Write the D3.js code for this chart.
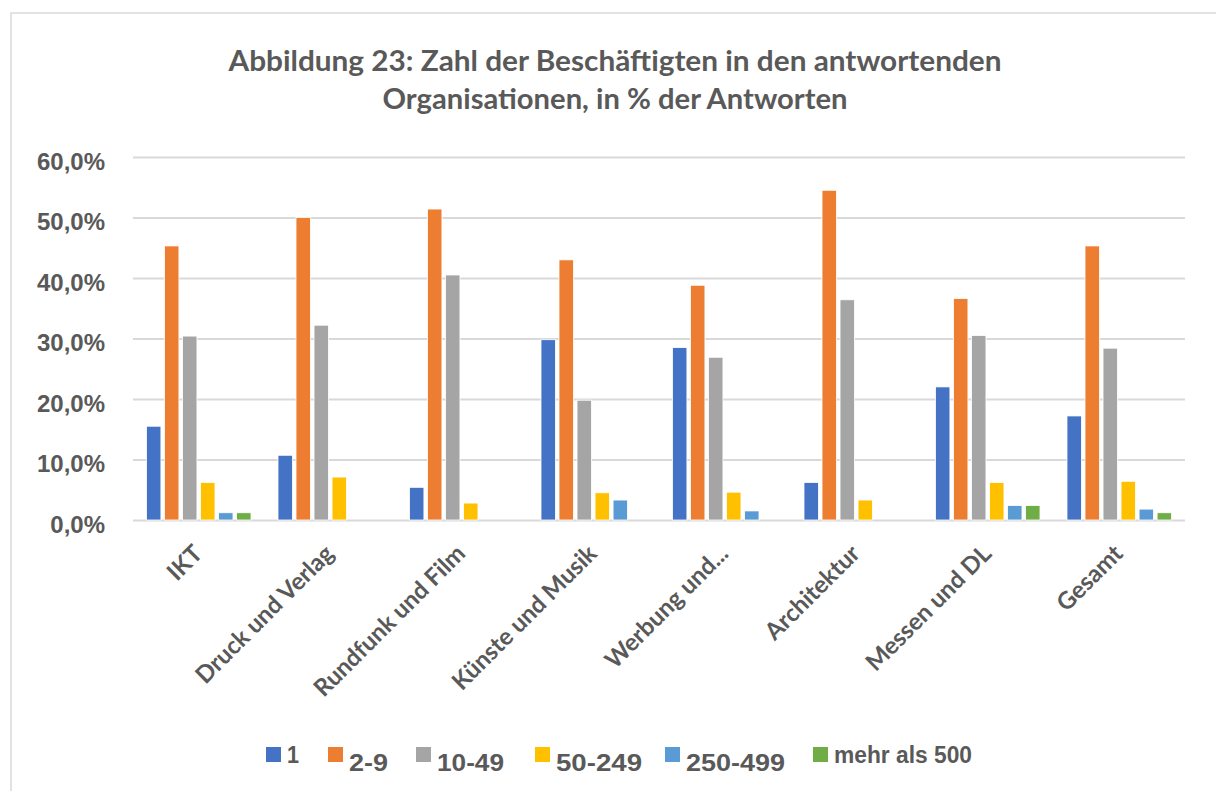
<!DOCTYPE html>
<html>
<head>
<meta charset="utf-8">
<script src="https://cdn.jsdelivr.net/npm/d3@7"></script>
<style>
  body { margin: 0; background: #fff; }
  svg { display: block; }
</style>
</head>
<body>
<div id="chart"></div>
<script>
const categories = ["IKT", "Druck und Verlag", "Rundfunk und Film", "Künste und Musik", "Werbung und...", "Architektur", "Messen und DL", "Gesamt"];
const seriesNames = ["1", "2-9", "10-49", "50-249", "250-499", "mehr als 500"];
// values in % per series, one entry per category (0 = no bar)
const s1 = [15.5, 10.7, 5.4, 29.8, 28.5, 6.2, 22.0, 17.2];
const s2_9 = [45.3, 50.0, 51.4, 43.0, 38.8, 54.5, 36.6, 45.3];
const s10_49 = [30.4, 32.2, 40.5, 19.8, 26.9, 36.4, 30.5, 28.4];
const s50_249 = [6.2, 7.1, 2.8, 4.5, 4.6, 3.3, 6.2, 6.4];
const s250_499 = [1.2, 0, 0, 3.3, 1.5, 0, 2.4, 1.8];
const s500 = [1.2, 0, 0, 0, 0, 0, 2.4, 1.2];
const yTicks = [0, 10, 20, 30, 40, 50, 60];
const titleLines = ["Abbildung 23: Zahl der Beschäftigten in den antwortenden", "Organisationen, in % der Antworten"];

const colors = ["#4472C4", "#ED7D31", "#A5A5A5", "#FFC000", "#5B9BD5", "#70AD47"];
const allSeries = [s1, s2_9, s10_49, s50_249, s250_499, s500];

const W = 1216, H = 791;
const margin = { top: 157, right: 31, bottom: 271, left: 133 };
const width = W - margin.left - margin.right;
const height = H - margin.top - margin.bottom;
const textColor = "#595959";

const svg = d3.select("#chart").append("svg").attr("width", W).attr("height", H);

// chart area border (runs off the right and bottom edge)
svg.append("rect")
  .attr("x", 11).attr("y", 13)
  .attr("width", W + 20).attr("height", H + 20)
  .attr("fill", "#fff").attr("stroke", "#d9d9d9").attr("stroke-width", 1.5);

const titleWidths = [773, 465];
svg.append("g")
  .selectAll("text")
  .data(titleLines)
  .join("text")
  .attr("x", 615)
  .attr("y", (d, i) => 71 + i * 38)
  .attr("text-anchor", "middle")
  .attr("font-family", "Lato, 'Open Sans', sans-serif")
  .attr("font-weight", "bold")
  .attr("font-size", 28)
  .attr("fill", textColor)
  .attr("textLength", (d, i) => titleWidths[i])
  .attr("lengthAdjust", "spacingAndGlyphs")
  .text((d) => d);

const g = svg.append("g").attr("transform", `translate(${margin.left},${margin.top})`);

const yScale = d3.scaleLinear().domain([0, 60]).range([height, 0]);
const x0 = d3.scaleBand().domain(categories).range([0, width]).padding(0);
const x1 = d3.scaleBand().domain(seriesNames)
  .range([13.5, x0.bandwidth() - 13.5])
  .paddingInner(0.2).paddingOuter(0);

// grid
g.append("g")
  .call(d3.axisLeft(yScale).tickValues(yTicks).tickSize(-width).tickFormat(""))
  .call((a) => a.select(".domain").remove())
  .call((a) => a.selectAll("line").attr("stroke", "#d9d9d9").attr("stroke-width", 2));

// y axis labels
g.append("g")
  .call(d3.axisLeft(yScale).tickValues(yTicks).tickSize(0).tickPadding(28)
    .tickFormat((d) => d.toFixed(1).replace(".", ",") + "%"))
  .call((a) => a.select(".domain").remove())
  .call((a) => a.selectAll("text")
    .attr("font-family", "Arial, 'Liberation Sans', sans-serif")
    .attr("font-weight", "bold")
    .attr("font-size", 24)
    .attr("fill", textColor)
    .attr("dy", "0.5em"));

// bars
const barData = [];
categories.forEach((c, ci) => {
  seriesNames.forEach((s, si) => {
    const v = allSeries[si][ci];
    if (v > 0) barData.push({ cat: c, series: s, value: v, color: colors[si] });
  });
});

g.append("g")
  .selectAll("rect")
  .data(barData)
  .join("rect")
  .attr("x", (d) => x0(d.cat) + x1(d.series))
  .attr("y", (d) => yScale(d.value))
  .attr("width", x1.bandwidth())
  .attr("height", (d) => height - yScale(d.value))
  .attr("fill", (d) => d.color)
  .attr("stroke", "#fff")
  .attr("stroke-width", 0.8);

// x axis labels
g.append("g")
  .attr("transform", `translate(0,${height})`)
  .call(d3.axisBottom(x0).tickSize(0).tickPadding(0))
  .call((a) => a.select(".domain").remove())
  .call((a) => a.selectAll("text")
    .attr("font-family", "Lato, 'Open Sans', sans-serif")
    .attr("font-weight", "bold")
    .attr("font-size", 24)
    .attr("fill", textColor)
    .attr("text-anchor", "end")
    .attr("dy", "0.3em")
    .attr("transform", "translate(0,30) rotate(-45)"));

// legend (Excel draws most entries a little wider and lower)
const legendX = [266, 328, 416, 535, 665, 813];
const legendBase = [16, 24, 24, 24, 24, 16];
const legendLen = [12, 39, 67, 86, 99, 138];
const legend = svg.append("g").attr("transform", "translate(0,747)");
seriesNames.forEach((s, i) => {
  const item = legend.append("g").attr("transform", `translate(${legendX[i]},0)`);
  item.append("rect").attr("width", 15).attr("height", 15).attr("fill", colors[i]);
  item.append("text")
    .attr("x", 21)
    .attr("y", legendBase[i])
    .attr("font-family", "Arial, 'Liberation Sans', sans-serif")
    .attr("font-weight", "bold")
    .attr("font-size", 23)
    .attr("fill", textColor)
    .attr("textLength", legendLen[i])
    .attr("lengthAdjust", "spacingAndGlyphs")
    .text(s);
});
</script>
</body>
</html>
